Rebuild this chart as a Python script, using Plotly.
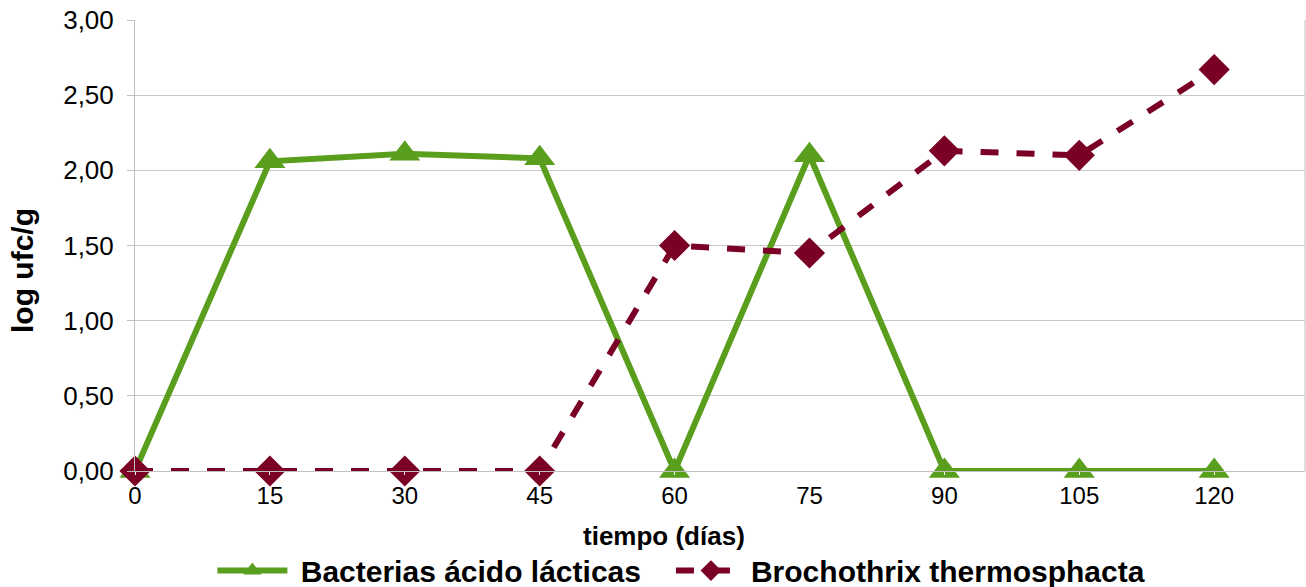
import plotly.graph_objects as go

dias = [0, 15, 30, 45, 60, 75, 90, 105, 120]
bacterias = [0.0, 2.06, 2.11, 2.08, 0.0, 2.10, 0.0, 0.0, 0.0]
brochothrix = [0.0, 0.0, 0.0, 0.0, 1.50, 1.45, 2.13, 2.10, 2.67]
y_ticks = [0, 0.5, 1.0, 1.5, 2.0, 2.5, 3.0]
y_labels = ["0,00", "0,50", "1,00", "1,50", "2,00", "2,50", "3,00"]

green = "#5a9e1e"
maroon = "#7b0026"
font = "Liberation Sans, Arial, sans-serif"
nb = "\u00a0"

fig = go.Figure()
fig.add_trace(go.Scatter(
    x=dias, y=bacterias, name=nb + "<b>Bacterias ácido lácticas</b>" + nb * 3,
    mode="lines+markers",
    line=dict(color=green, width=6),
    marker=dict(symbol="triangle-up", size=27, color=green),
    cliponaxis=False,
))
fig.add_trace(go.Scatter(
    x=dias, y=brochothrix, name="<b>Brochothrix thermosphacta</b>",
    mode="lines+markers",
    line=dict(color=maroon, width=6, dash="dash"),
    marker=dict(symbol="diamond", size=24, color=maroon),
    cliponaxis=False,
))

fig.update_layout(
    width=1306, height=587,
    margin=dict(l=135, r=1, t=20, b=116, autoexpand=False),
    paper_bgcolor="white", plot_bgcolor="white",
    font=dict(family=font, size=24, color="black"),
    xaxis=dict(
        range=[0, 130.1], tickvals=dias, ticktext=[str(d) for d in dias],
        showgrid=False, zeroline=False, showline=True, linecolor="#c0c0c0",
        linewidth=1, mirror=False, ticks="outside", ticklen=3, tickcolor="white",
        tickfont=dict(size=24),
    ),
    yaxis=dict(
        range=[0, 3.0], tickvals=y_ticks, ticktext=y_labels,
        showgrid=True, gridcolor="#c8c8c8", gridwidth=1, zeroline=False,
        showline=True, linecolor="#c0c0c0", linewidth=1, ticks="outside",
        ticklen=7, tickcolor="#c0c0c0", tickfont=dict(size=26),
        ticklabelstandoff=8,
    ),
    legend=dict(
        orientation="h", x=0.467, xanchor="center",
        yref="container", y=0.028, yanchor="middle",
        font=dict(size=30), itemwidth=70, tracegroupgap=0,
    ),
    showlegend=True,
    annotations=[
        dict(text="<b>tiempo (días)</b>", xref="paper", yref="paper",
             x=(664 - 135) / 1170, y=-(536 - 471) / 451, xanchor="center",
             yanchor="middle", showarrow=False, font=dict(size=26)),
        dict(text="<b>log ufc/g</b>", xref="paper", yref="paper",
             x=-(135 - 22) / 1170, y=(471 - 271) / 451, xanchor="center",
             yanchor="middle", showarrow=False, textangle=-90,
             font=dict(size=30)),
    ],
)
fig.add_shape(type="line", xref="paper", yref="paper", x0=1, x1=1, y0=0, y1=1,
              line=dict(color="#c0c0c0", width=1))

fig.write_html("out.html")
